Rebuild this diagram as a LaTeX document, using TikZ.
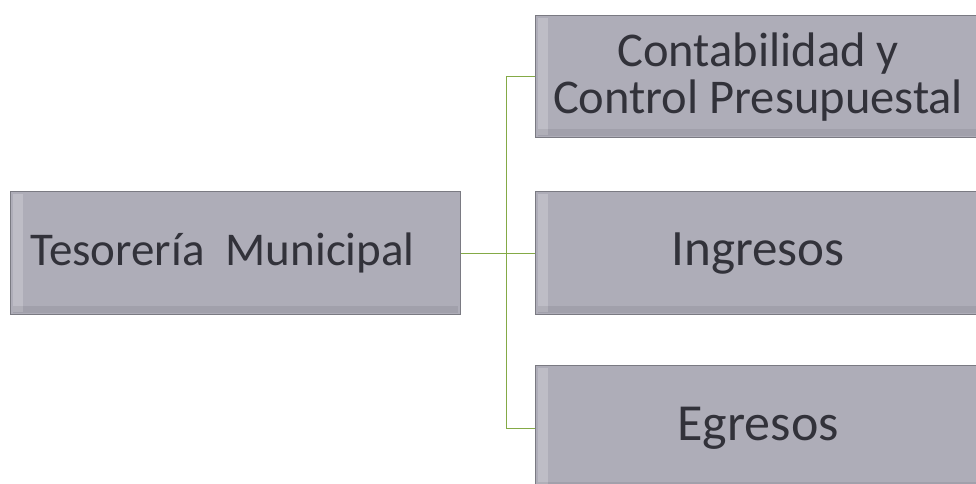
\documentclass[tikz,border=0pt]{standalone}
\usepackage{fontspec}
\setmainfont{Carlito}
\definecolor{boxfill}{RGB}{174,173,184}
\definecolor{boxedge}{RGB}{122,122,130}
\definecolor{boxtext}{RGB}{50,50,58}
\definecolor{linkgreen}{RGB}{132,170,70}
\begin{document}
\begin{tikzpicture}[x=1pt,y=-1pt,
  unit/.style={draw=boxedge,line width=1.2pt,fill=boxfill,
    inner sep=0pt,anchor=north west,text=boxtext,align=center},
  link/.style={draw=linkgreen,line width=1.2pt}]
  \useasboundingbox (0,0) rectangle (976,483);
  % boxes
  \node[unit,minimum width=450pt,minimum height=123pt,
    font=\fontsize{47}{48}\selectfont] (tes) at (10,191)
    {Tesorería\ \ Municipal\hspace*{26pt}};
  \node[unit,minimum width=445pt,minimum height=122pt,
    font=\fontsize{48.5}{47}\selectfont] (cont) at (535,15)
    {Contabilidad y\\Control Presupuestal};
  \node[unit,minimum width=445pt,minimum height=123pt,
    font=\fontsize{51}{52}\selectfont] (ing) at (535,191) {Ingresos};
  \node[unit,minimum width=445pt,minimum height=125pt,
    font=\fontsize{52}{52}\selectfont] (egr) at (535,365) {Egresos};
  % bevel shading: light band on the left, dark band along the bottom
  \foreach \b in {cont,ing,egr,tes}{
    \fill[white,opacity=0.2] ([xshift=3pt,yshift=-3pt]\b.north west) rectangle ([xshift=13pt,yshift=3pt]\b.south west);
    \fill[black,opacity=0.07] ([xshift=3pt,yshift=9pt]\b.south west) rectangle ([xshift=-3pt,yshift=2pt]\b.south east);
  }
  % connectors
  \path (tes.east) ++(45,0) coordinate (j);
  \draw[link] (tes.east) -- (j);
  \draw[link] (j) |- (cont.west);
  \draw[link] (j) -- (ing.west);
  \draw[link] (j) |- (egr.west);
\end{tikzpicture}
\end{document}
